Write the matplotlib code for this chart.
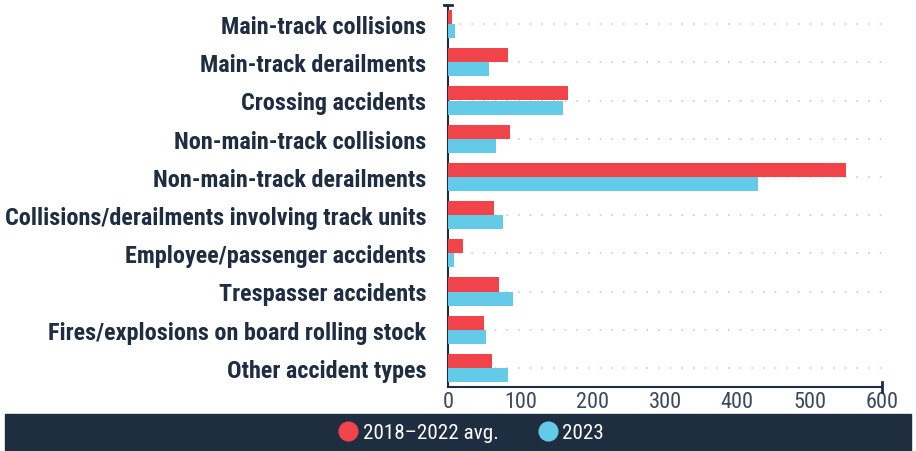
import matplotlib
matplotlib.use("Agg")
import matplotlib.pyplot as plt
from matplotlib.patches import Rectangle
from matplotlib.lines import Line2D
import numpy as np

categories = [
    "Main-track collisions",
    "Main-track derailments",
    "Crossing accidents",
    "Non-main-track collisions",
    "Non-main-track derailments",
    "Collisions/derailments involving track units",
    "Employee/passenger accidents",
    "Trespasser accidents",
    "Fires/explosions on board rolling stock",
    "Other accident types",
]
avg_2018_2022 = [6, 83, 166, 86, 550, 64, 21, 70, 50, 61]
year_2023 = [9, 57, 159, 66, 429, 76, 8, 90, 52, 83]
series_names = ["2018\u20132022 avg.", "2023"]
xticks = [0, 100, 200, 300, 400, 500, 600]

RED = "#f0434a"
BLUE = "#63cbe8"
NAVY = "#1f2d40"

plt.rcParams["font.family"] = ["Roboto Condensed", "Roboto", "DejaVu Sans"]

fig = plt.figure(figsize=(9.16, 4.52), dpi=100)
ax = fig.add_axes([448 / 916, 1 - 388 / 452, 434 / 916, 382 / 452])

y = np.arange(len(categories))
h = 0.37
ax.barh(y - h / 2, avg_2018_2022, height=h, color=RED, zorder=3)
ax.barh(y + h / 2, year_2023, height=h, color=BLUE, zorder=3)

ax.set_ylim(len(categories) - 0.5, -0.5)
ax.set_xlim(0, 600)
ax.set_yticks(y, categories)
ax.set_xticks(xticks, [str(t) for t in xticks])
for yy in y:
    ax.axhline(yy, color="#cccccc", lw=1.2, ls=(0, (1, 6)), zorder=1)

for s in ["top", "right"]:
    ax.spines[s].set_visible(False)
for s in ["left", "bottom"]:
    ax.spines[s].set_color(NAVY)
    ax.spines[s].set_linewidth(1.5)
ax.tick_params(axis="y", length=0, pad=15.5, labelsize=17.4, labelcolor=NAVY)
ax.tick_params(axis="x", length=0, pad=3, labelsize=16, labelcolor="#3a4a5c")
for lab in ax.get_yticklabels():
    lab.set_fontweight("bold")

# axis end caps
ax.plot([-0.01, 0.01], [1, 1], transform=ax.transAxes, color=NAVY, lw=2, clip_on=False)
ax.plot([1, 1], [-0.012, 0.012], transform=ax.transAxes, color=NAVY, lw=2, clip_on=False)

# legend band
fig.patches.append(Rectangle((5 / 916, 0), 906 / 916, 37 / 452, transform=fig.transFigure,
                             color=NAVY, zorder=0))
handles = [Line2D([], [], marker="o", ls="", markersize=13.5, color=c) for c in (RED, BLUE)]
fig.legend(handles, series_names, loc="center", bbox_to_anchor=(470 / 916, 18 / 452), ncol=2,
           frameon=False, labelcolor="white", fontsize=15.2, handletextpad=0.1,
           columnspacing=1.7, handlelength=1.2)

fig.savefig("out.png", dpi=100)
